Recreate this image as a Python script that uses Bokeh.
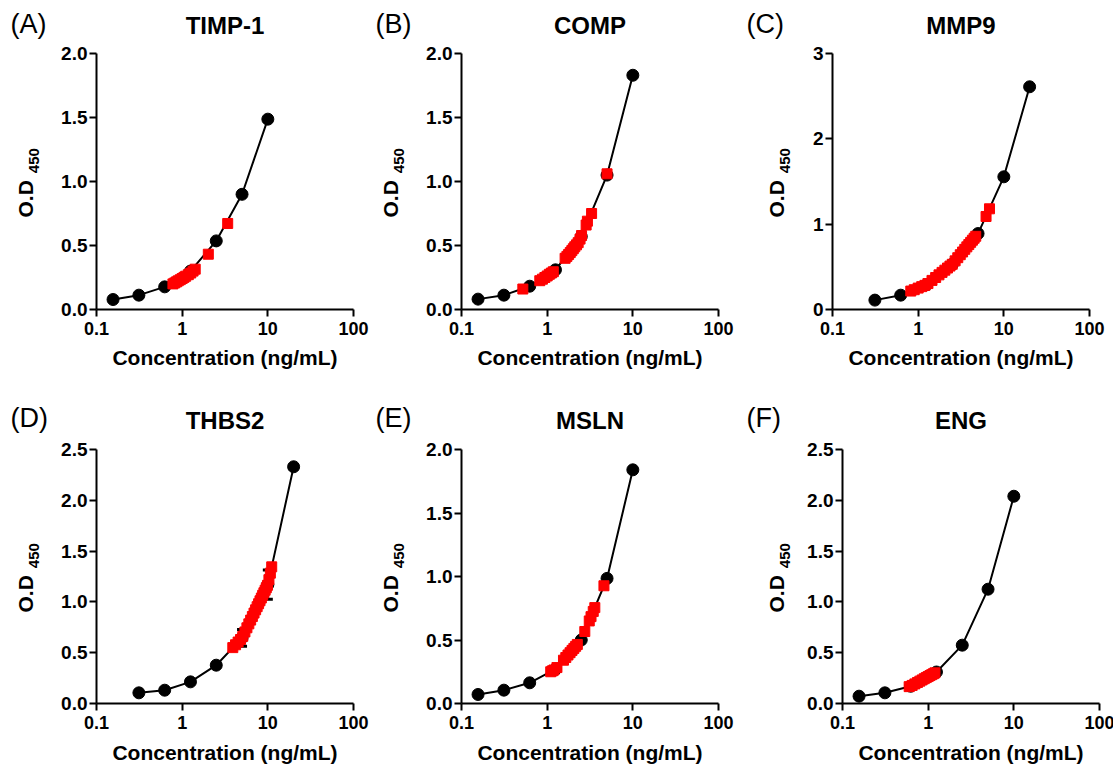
import math
from bokeh.plotting import figure
from bokeh.layouts import column, row
from bokeh.models import Range1d, FixedTicker, NumeralTickFormatter, ColumnDataSource
from bokeh.core.properties import value
from bokeh.embed import file_html
from bokeh.resources import INLINE

# ---------------- data ----------------
X_TICKS = [0.1, 1, 10, 100]
X_TICK_LABELS = ["0.1", "1", "10", "100"]

PANEL_LETTERS = ["(A)", "(B)", "(C)", "(D)", "(E)", "(F)"]
PANEL_TITLES = ["TIMP-1", "COMP", "MMP9", "THBS2", "MSLN", "ENG"]
X_LABEL = "Concentration (ng/mL)"
Y_LABEL_MAIN = "O.D"
Y_LABEL_SUB = "450"

# (A) TIMP-1
A_std_x = [0.156, 0.3125, 0.625, 1.25, 2.5, 5, 10]
A_std_y = [0.078, 0.112, 0.177, 0.30, 0.536, 0.90, 1.487]
A_smp_x = [0.78, 0.82, 0.86, 0.90, 0.95, 1.00, 1.05, 1.10, 1.18, 1.26, 1.34, 1.42, 2.02, 3.40]
A_smp_y = [0.200, 0.208, 0.216, 0.224, 0.233, 0.242, 0.251, 0.260, 0.272, 0.285, 0.300, 0.315, 0.432, 0.672]

# (B) COMP
B_std_x = [0.156, 0.3125, 0.625, 1.25, 2.5, 5, 10]
B_std_y = [0.081, 0.112, 0.182, 0.31, 0.57, 1.05, 1.83]
B_smp_x = [0.52, 0.82, 0.88, 0.94, 1.00, 1.06, 1.12, 1.18, 1.62, 1.70, 1.78, 1.86, 1.94, 2.02, 2.10, 2.20, 2.30, 2.42, 2.52, 2.85, 2.95, 3.30, 5.00]
B_smp_y = [0.160, 0.225, 0.237, 0.250, 0.262, 0.275, 0.285, 0.295, 0.400, 0.415, 0.430, 0.445, 0.460, 0.475, 0.490, 0.505, 0.522, 0.550, 0.578, 0.660, 0.690, 0.750, 1.060]

# (C) MMP9
C_std_x = [0.3125, 0.625, 1.25, 2.5, 5, 10, 20]
C_std_y = [0.11, 0.168, 0.29, 0.53, 0.89, 1.555, 2.61]
C_smp_x = [0.82, 0.9, 1.0, 1.1, 1.2, 1.3, 1.45, 1.6, 1.75, 1.9, 2.05, 2.2, 2.35, 2.5, 2.7, 2.9, 3.1, 3.3, 3.5, 3.7, 3.9, 4.1, 4.3, 4.5, 4.7, 6.2, 6.8]
C_smp_y = [0.216, 0.232, 0.251, 0.268, 0.283, 0.304, 0.341, 0.375, 0.406, 0.435, 0.461, 0.486, 0.509, 0.530, 0.570, 0.607, 0.642, 0.674, 0.705, 0.734, 0.761, 0.787, 0.812, 0.835, 0.858, 1.09, 1.18]

# (D) THBS2
D_std_x = [0.3125, 0.625, 1.25, 2.5, 5, 10, 20]
D_std_y = [0.105, 0.131, 0.213, 0.377, 0.646, 1.17, 2.33]
D_std_sd = [0.005, 0.008, 0.010, 0.015, 0.082, 0.143, 0.020]
D_smp_x = [3.9, 4.2, 4.5, 4.8, 5.1, 5.4, 5.7, 6.0, 6.3, 6.6, 6.9, 7.2, 7.5, 7.8, 8.1, 8.4, 8.7, 9.0, 9.3, 9.6, 9.9, 10.3, 10.7, 11.1]
D_smp_y = [0.550, 0.578, 0.605, 0.630, 0.661, 0.704, 0.745, 0.784, 0.821, 0.856, 0.890, 0.922, 0.953, 0.982, 1.011, 1.038, 1.065, 1.090, 1.115, 1.139, 1.163, 1.219, 1.283, 1.345]

# (E) MSLN
E_std_x = [0.156, 0.3125, 0.625, 1.25, 2.5, 5, 10]
E_std_y = [0.071, 0.105, 0.163, 0.27, 0.50, 0.985, 1.84]
E_smp_x = [1.10, 1.15, 1.20, 1.30, 1.55, 1.65, 1.75, 1.85, 1.95, 2.05, 2.15, 2.25, 2.75, 3.10, 3.25, 3.45, 3.60, 4.60]
E_smp_y = [0.250, 0.257, 0.264, 0.283, 0.341, 0.362, 0.382, 0.400, 0.418, 0.434, 0.450, 0.465, 0.567, 0.650, 0.684, 0.725, 0.755, 0.927]

# (F) ENG
F_std_x = [0.156, 0.3125, 0.625, 1.25, 2.5, 5, 10]
F_std_y = [0.072, 0.105, 0.17, 0.31, 0.574, 1.125, 2.04]
F_smp_x = [0.60, 0.65, 0.70, 0.75, 0.80, 0.85, 0.90, 0.95, 1.00, 1.05, 1.10, 1.15, 1.20]
F_smp_y = [0.166, 0.178, 0.193, 0.207, 0.220, 0.232, 0.244, 0.255, 0.265, 0.275, 0.284, 0.293, 0.302]

Y_TICKS_2 = [0, 0.5, 1.0, 1.5, 2.0]
Y_LABELS_2 = ["0.0", "0.5", "1.0", "1.5", "2.0"]
Y_TICKS_25 = [0, 0.5, 1.0, 1.5, 2.0, 2.5]
Y_LABELS_25 = ["0.0", "0.5", "1.0", "1.5", "2.0", "2.5"]
Y_TICKS_3 = [0, 1, 2, 3]
Y_LABELS_3 = ["0", "1", "2", "3"]

# ---------------- layout constants ----------------
FONT = "Liberation Sans"
FW = 257            # frame width (px)
TOTAL_W = 1110
TOP_B = 10          # top border of main figures
BASE_FIX = 0.44     # renderer places the alphabetic baseline ~0.44 em lower; compensate
# per column: (ylabel strip width, main left border, main right border, O.D baseline x in strip)
COLS = [(50, 46, 17, 34.5), (45, 46, 41, 29.0), (45, 28, 24, 26.0)]
ROWS = [dict(head_h=43, fh=256, bb=66, xstand=8, letter_base=35, title_base=36),
        dict(head_h=64, fh=254, bb=70, xstand=9, letter_base=54, title_base=56)]


def no_align(f):
    try:
        f.frame_align = False
    except Exception:
        pass
    return f


def bare_fig(w, fh, top, bottom, flip=False):
    yr = Range1d(fh, 0) if flip else Range1d(0, fh)
    f = figure(frame_width=w, frame_height=fh, x_range=Range1d(0, w), y_range=yr,
               x_axis_location=None, y_axis_location=None, title=None,
               min_border_left=0, min_border_right=0, min_border_top=top, min_border_bottom=bottom,
               output_backend="svg", toolbar_location=None)
    f.outline_line_color = None
    f.xgrid.visible = False
    f.ygrid.visible = False
    return no_align(f)


def make_main(sx, sy, mx, my, ytop, yticks, ylabels, fh, bl, br, bb, xstand, sd=None):
    p = figure(x_axis_type="log", x_range=Range1d(0.1, 100), y_range=Range1d(0, ytop),
               frame_width=FW, frame_height=fh, title=None,
               min_border_left=bl, min_border_right=br, min_border_top=TOP_B, min_border_bottom=bb,
               output_backend="svg", toolbar_location=None)
    no_align(p)
    p.outline_line_color = None
    p.xgrid.visible = False
    p.ygrid.visible = False

    for ax in (p.xaxis[0], p.yaxis[0]):
        ax.axis_line_width = 2
        ax.axis_line_color = "black"
        ax.major_tick_line_width = 2
        ax.major_tick_line_color = "black"
        ax.major_tick_out = 7
        ax.major_tick_in = 0
        ax.minor_tick_out = 0
        ax.minor_tick_in = 0
        ax.major_label_text_font = FONT
        ax.major_label_text_font_style = "bold"
        ax.major_label_text_color = "black"

    p.xaxis.major_label_text_font_size = "18px"
    p.yaxis.major_label_text_font_size = "19px"
    p.xaxis.ticker = FixedTicker(ticks=X_TICKS, minor_ticks=[])
    p.xaxis.major_label_overrides = {t: s for t, s in zip(X_TICKS, X_TICK_LABELS)}
    p.xaxis.major_label_standoff = 5
    p.xaxis.axis_label = X_LABEL
    p.xaxis.axis_label_text_font = FONT
    p.xaxis.axis_label_text_font_style = "bold"
    p.xaxis.axis_label_text_font_size = "21px"
    p.xaxis.axis_label_text_color = "black"
    p.xaxis.axis_label_standoff = xstand

    p.yaxis.ticker = FixedTicker(ticks=yticks, minor_ticks=[])
    p.yaxis.formatter = NumeralTickFormatter(format="0.0" if ylabels[0] == "0.0" else "0")
    p.yaxis.major_label_overrides = {t: s for t, s in zip(yticks, ylabels)}
    p.yaxis.major_label_standoff = 2

    p.line(sx, sy, line_color="black", line_width=2)
    p.scatter(sx, sy, marker="circle", size=12, fill_color="black", line_color="black")
    if sd is not None:
        lo = [y - s for y, s in zip(sy, sd)]
        hi = [y + s for y, s in zip(sy, sd)]
        src = ColumnDataSource(dict(x=sx, lo=lo, hi=hi))
        p.segment(x0="x", y0="lo", x1="x", y1="hi", source=src, line_color="black", line_width=2)
        p.scatter(x="x", y="lo", source=src, marker="dash", size=10, line_color="black", line_width=3)
        p.scatter(x="x", y="hi", source=src, marker="dash", size=10, line_color="black", line_width=3)
    p.scatter(mx, my, marker="square", size=10, fill_color="#ff0000", line_color="#ff0000")
    return p


def ylabel_strip(w, fh, bb, xb):
    # frame of the strip is aligned with the frame of its plot; y in pixels from frame bottom
    f = bare_fig(w, fh, TOP_B, bb)
    yc = fh / 2.0
    f.text(x=[xb - BASE_FIX * 21], y=[yc + 1.3], text=[Y_LABEL_MAIN], angle=math.pi / 2,
           text_font=value(FONT), text_font_style="bold", text_font_size=value("21px"),
           text_color="black", text_align="right", text_baseline="alphabetic")
    f.text(x=[xb + 6 - BASE_FIX * 15], y=[yc + 8.3], text=[Y_LABEL_SUB], angle=math.pi / 2,
           text_font=value(FONT), text_font_style="bold", text_font_size=value("15px"),
           text_color="black", text_align="left", text_baseline="alphabetic")
    return f


panels = [
    (A_std_x, A_std_y, A_smp_x, A_smp_y, 2.0, Y_TICKS_2, Y_LABELS_2, None),
    (B_std_x, B_std_y, B_smp_x, B_smp_y, 2.0, Y_TICKS_2, Y_LABELS_2, None),
    (C_std_x, C_std_y, C_smp_x, C_smp_y, 3.0, Y_TICKS_3, Y_LABELS_3, None),
    (D_std_x, D_std_y, D_smp_x, D_smp_y, 2.5, Y_TICKS_25, Y_LABELS_25, D_std_sd),
    (E_std_x, E_std_y, E_smp_x, E_smp_y, 2.0, Y_TICKS_2, Y_LABELS_2, None),
    (F_std_x, F_std_y, F_smp_x, F_smp_y, 2.5, Y_TICKS_25, Y_LABELS_25, None),
]

blocks = []
for r, rc in enumerate(ROWS):
    fh, bb = rc["fh"], rc["bb"]
    strip_items = []
    letter_x, title_x = [], []
    x0 = 0
    for c, (yw, bl, br, xb) in enumerate(COLS):
        sx, sy, mx, my, ytop, yt, yl, sd = panels[r * 3 + c]
        strip_items.append(ylabel_strip(yw, fh, bb, xb))
        strip_items.append(make_main(sx, sy, mx, my, ytop, yt, yl, fh, bl, br, bb, rc["xstand"], sd))
        frame_left = x0 + yw + bl
        letter_x.append(frame_left - 86)
        title_x.append(frame_left + FW / 2.0)
        x0 += yw + bl + FW + br
    head = bare_fig(TOTAL_W, rc["head_h"], 0, 0, flip=True)
    head.text(x=letter_x, y=[rc["letter_base"] - BASE_FIX * 27] * 3, text=PANEL_LETTERS[r * 3:r * 3 + 3],
              text_font=value(FONT), text_font_size=value("27px"), text_color="black",
              text_align="left", text_baseline="alphabetic")
    head.text(x=title_x, y=[rc["title_base"] - BASE_FIX * 24] * 3, text=PANEL_TITLES[r * 3:r * 3 + 3],
              text_font=value(FONT), text_font_style="bold", text_font_size=value("24px"),
              text_color="black", text_align="center", text_baseline="alphabetic")
    blocks.append(head)
    blocks.append(row(*strip_items, spacing=0))

layout = column(*blocks, spacing=0)

open("out.html", "w").write(file_html(layout, INLINE))
